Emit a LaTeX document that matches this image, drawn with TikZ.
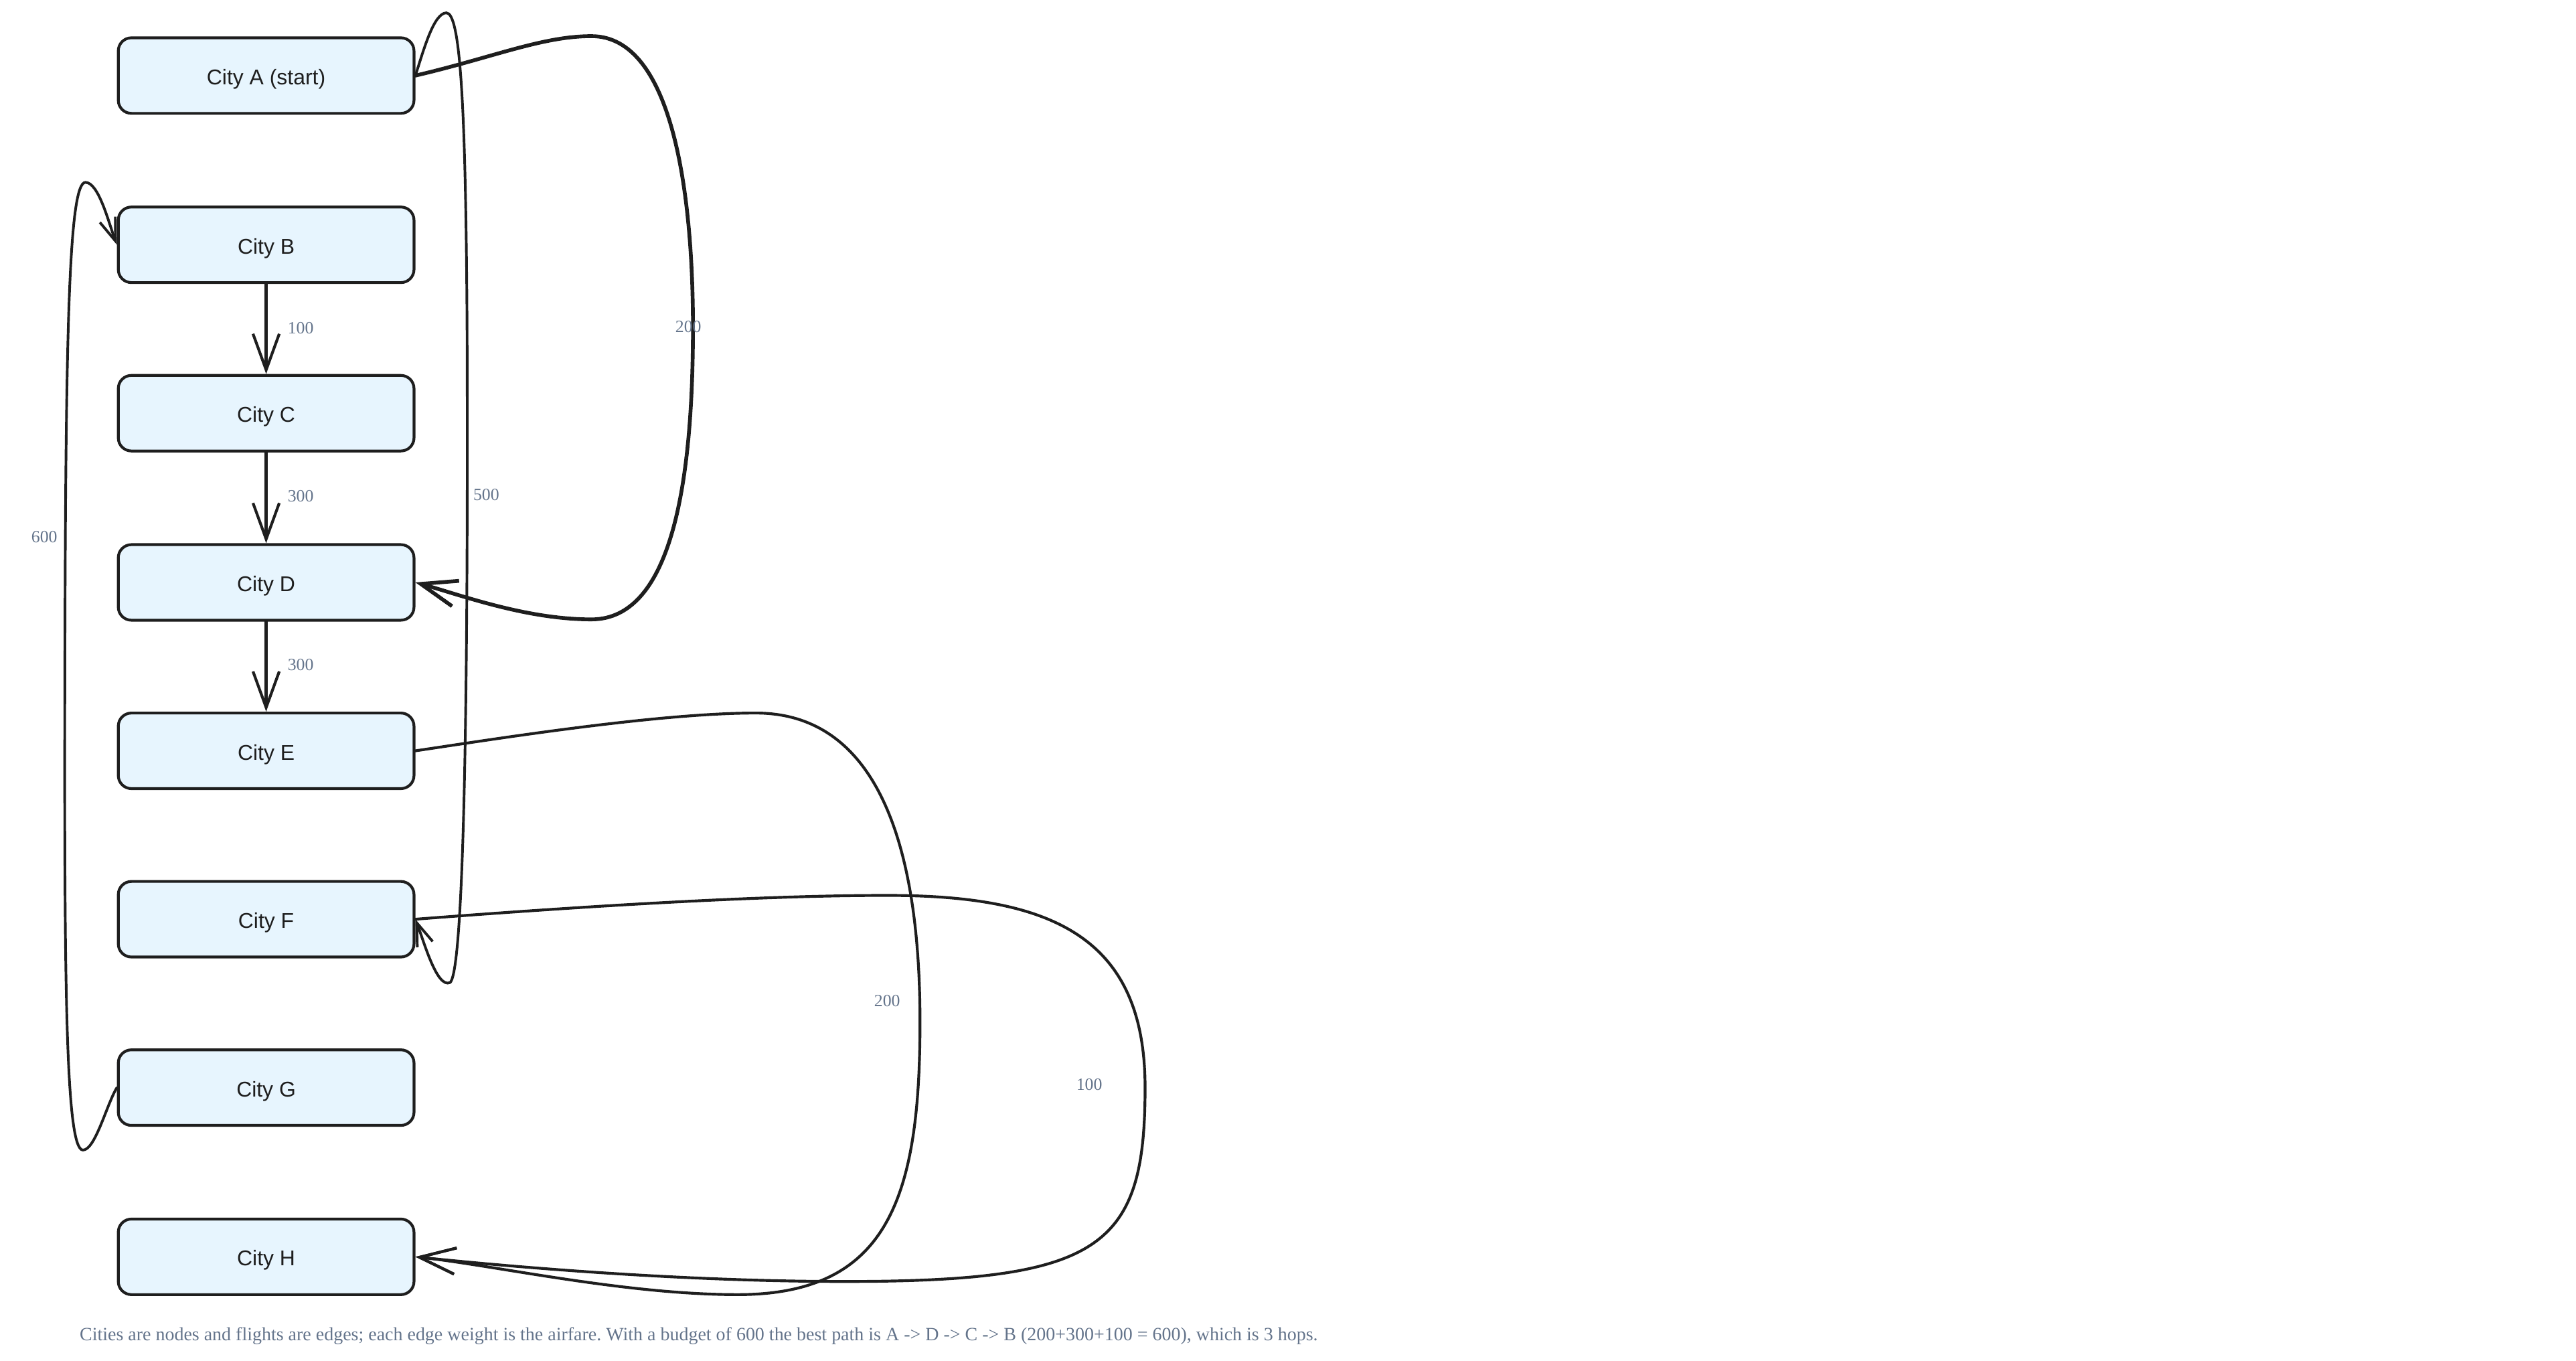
\documentclass[tikz,border=0pt]{standalone}
\usepackage{fontspec}
\setmainfont{Liberation Serif}
\newfontfamily\citysans{Liberation Sans}
\usetikzlibrary{arrows.meta}
\definecolor{cityfill}{HTML}{E7F5FE}
\definecolor{ink}{HTML}{1E1E1E}
\definecolor{slate}{HTML}{64748B}
\tikzset{
	city/.style={draw=ink,fill=cityfill,line width=1.7pt,rounded corners=8pt,minimum width=180pt,minimum height=46pt,text height=11pt,text depth=0pt,font=\citysans\fontsize{13}{15}\selectfont,text=ink},
	fare/.style={text=slate,font=\fontsize{10.5}{12}\selectfont},
	flight/.style={draw=ink,line width=1.7pt,line cap=round,-{Straight Barb[length=22pt,width=16pt]}},
	hop/.style={draw=ink,line width=1.6pt,line cap=round,-{Straight Barb[length=14pt,width=10pt]}}
}
\frenchspacing
\begin{document}
\begin{tikzpicture}[x=1pt,y=-1pt]
	\useasboundingbox(0,0)rectangle(1568,828.4);
	\node[city](A)at(162,46){City A (start)};
	\node[city](B)at(162,149){City B};
	\node[city](C)at(162,251.5){City C};
	\node[city](D)at(162,354.5){City D};
	\node[city](E)at(162,457){City E};
	\node[city](F)at(162,559.5){City F};
	\node[city](G)at(162,662){City G};
	\node[city](H)at(162,765){City H};
	% straight flights down the column
	\draw[flight](B.south)--(C.north);
	\draw[flight](C.south)--(D.north);
	\draw[flight](D.south)--(E.north);
	\node[fare]at(183,199.5){100};
	\node[fare]at(183,302){300};
	\node[fare]at(183,404.5){300};
	% A to D
	\draw[flight,line width=2.3pt](A.east)..controls(300,35)and(330,22)..(360,22)..controls(410,22)and(421.8,120)..(421.8,199)..controls(421.8,290)and(410,377)..(360,377)..controls(320,377)and(280,362)..(D.east);
	\node[fare]at(419,199){200};
	% A to F
	\draw[hop](A.east)..controls(258,30)and(264,8)..(271.7,7.8)..controls(280,8)and(283.5,60)..(284.3,200)..controls(285,400)and(283,590)..(274,598)..controls(266,602)and(258,573)..(F.east);
	\node[fare]at(296,301){500};
	% G to B
	\draw[hop](G.west)..controls(65,672)and(58,700)..(50.5,700)..controls(40,700)and(39,600)..(39.5,400)..controls(40,200)and(42,111)..(52,111)..controls(60,111)and(66,135)..(B.west);
	\node[fare]at(27,327){600};
	% E to H
	\draw[flight](E.east)..controls(300,450)and(400,434)..(460,434)..controls(545,434)and(560,540)..(560,622)..controls(560,730)and(540,788)..(449,788)..controls(380,788)and(300,770)..(H.east);
	\node[fare]at(540,609){200};
	% F to H
	\draw[flight](F.east)..controls(350,552)and(460,545)..(540,545)..controls(640,545)and(697,570)..(697,662)..controls(697,760)and(670,780)..(514,780)..controls(420,780)and(320,772)..(H.east);
	\node[fare]at(663,660){100};
	\node[fare,anchor=west,font=\fontsize{11.4}{13}\selectfont](note)at(45,813){Cities are nodes and flights are edges; each edge weight is the airfare. With a budget of 600 the best path is A -> D -> C -> B (200+300+100 = 600), which is 3 hops.};
\end{tikzpicture}
\end{document}
